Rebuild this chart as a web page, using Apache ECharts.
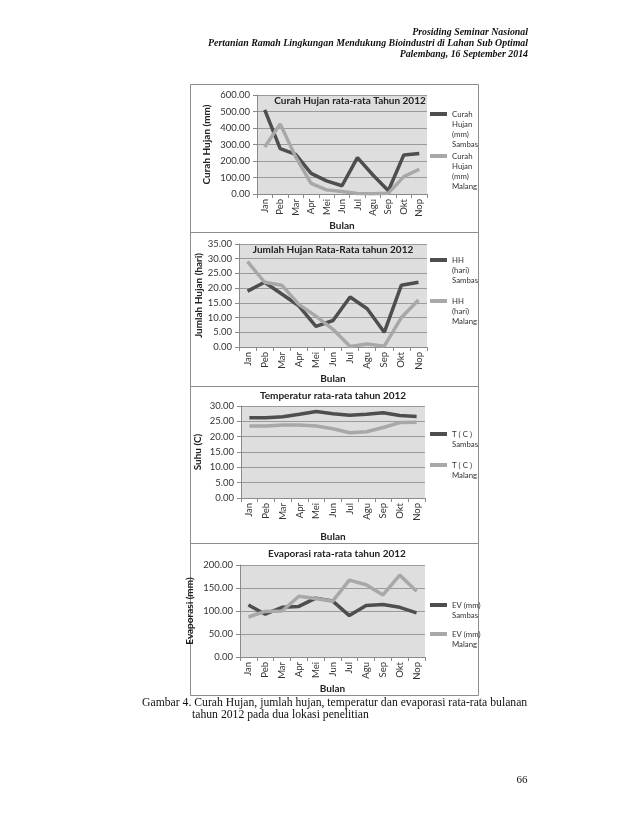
<!DOCTYPE html>
<html>
<head>
<meta charset="utf-8">
<script src="https://cdn.jsdelivr.net/npm/echarts@6/dist/echarts.min.js"></script>
<style>
html,body{margin:0;padding:0;background:#fff;}
#chart{width:638px;height:826px;}
</style>
</head>
<body>
<div id="chart"></div>
<script>
// ---------- data ----------
const months = ['Jan','Peb','Mar','Apr','Mei','Jun','Jul','Agu','Sep','Okt','Nop'];

const curahSambas = [510, 275, 240, 125, 80, 50, 220, 115, 20, 237, 245];
const curahMalang = [285, 425, 225, 65, 25, 15, 3, 2, 5, 105, 150];

const hhSambas = [19, 22, 18, 14, 7, 9, 17, 13, 5, 21, 22];
const hhMalang = [29, 22, 21, 14.5, 10.5, 6, 0.2, 1, 0.3, 10, 16];

const suhuSambas = [26.2, 26.2, 26.5, 27.3, 28.2, 27.5, 27.0, 27.3, 27.8, 26.9, 26.6];
const suhuMalang = [23.5, 23.5, 23.8, 23.8, 23.5, 22.6, 21.3, 21.6, 23.0, 24.6, 24.7];

const evSambas = [113, 93, 108, 110, 128, 122, 90, 112, 114, 108, 96];
const evMalang = [87, 99, 100, 132, 127, 121, 167, 157, 135, 178, 143];

const chartTitles = [
  'Curah Hujan rata-rata Tahun 2012',
  'Jumlah Hujan Rata-Rata tahun 2012',
  'Temperatur rata-rata tahun 2012',
  'Evaporasi rata-rata tahun 2012'
];
const yNames = ['Curah Hujan (mm)', 'Jumlah Hujan (hari)', 'Suhu (C)', 'Evaporasi (mm)'];
const xName = 'Bulan';
const seriesNamesSambas = ['Curah Hujan (mm) Sambas', 'HH (hari) Sambas', 'T ( C ) Sambas', 'EV (mm) Sambas'];
const seriesNamesMalang = ['Curah Hujan (mm) Malang', 'HH (hari) Malang', 'T ( C ) Malang', 'EV (mm) Malang'];
const legendLines = {
  'Curah Hujan (mm) Sambas': ['Curah','Hujan','(mm)','Sambas'],
  'Curah Hujan (mm) Malang': ['Curah','Hujan','(mm)','Malang'],
  'HH (hari) Sambas': ['HH','(hari)','Sambas'],
  'HH (hari) Malang': ['HH','(hari)','Malang'],
  'T ( C ) Sambas': ['T ( C )','Sambas'],
  'T ( C ) Malang': ['T ( C )','Malang'],
  'EV (mm) Sambas': ['EV (mm)','Sambas'],
  'EV (mm) Malang': ['EV (mm)','Malang']
};
const yMax = [600, 35, 30, 200];
const yInterval = [100, 5, 5, 50];

const headerLines = [
  'Prosiding Seminar Nasional',
  'Pertanian Ramah Lingkungan Mendukung Bioindustri di Lahan Sub Optimal',
  'Palembang, 16 September 2014'
];
const captionLine1 = 'Gambar 4. Curah Hujan, jumlah hujan, temperatur dan evaporasi rata-rata bulanan';
const captionLine2 = 'tahun 2012 pada dua lokasi penelitian';
const pageNumber = '66';

// ---------- layout ----------
const FONT = 'Lato, "Liberation Sans", sans-serif';
const DARK = '#4e4e4e';
const LIGHT = '#a8a8a8';
const grids = [
  {left: 257, top: 95, width: 170, height: 99},
  {left: 239, top: 244, width: 188, height: 103},
  {left: 241, top: 406, width: 184, height: 92},
  {left: 240, top: 565, width: 185, height: 92}
];
const yNameGap = [45, 28, 38, 45];
const xNameGap = [26, 27, 34, 27];
const frames = [
  {y: 84, h: 148}, {y: 232, h: 154}, {y: 386, h: 157}, {y: 543, h: 152}
];
const titlePos = [[350, 101], [333, 249.5], [333, 396], [337, 554]];
const legendIcon = [[114, 156], [260, 301], [434, 465], [605, 634]];

const seriesData = [
  [curahSambas, curahMalang],
  [hhSambas, hhMalang],
  [suhuSambas, suhuMalang],
  [evSambas, evMalang]
];

const LH = 10;
function legendFor(name, iconY) {
  const n = legendLines[name].length;
  return {
    data: [name],
    left: 430,
    top: iconY - (2 * n - 1) * LH / 2,
    orient: 'vertical',
    padding: 0,
    icon: 'rect',
    itemWidth: 17,
    itemHeight: 4,
    selectedMode: false,
    textStyle: {fontFamily: FONT, fontSize: 7.8, lineHeight: LH, color: '#333'},
    formatter: function (nm) {
      const lines = legendLines[nm];
      return new Array(lines.length - 1).fill(' ').concat(lines).join('\n');
    }
  };
}

const option = {
  backgroundColor: '#fff',
  animation: false,
  grid: grids.map(g => Object.assign({show: true, backgroundColor: '#dedede', borderWidth: 0}, g)),
  xAxis: grids.map((g, i) => ({
    type: 'category',
    gridIndex: i,
    data: months,
    name: xName,
    nameLocation: 'middle',
    nameGap: xNameGap[i],
    nameTextStyle: {fontFamily: FONT, fontWeight: 'bold', fontSize: 10, color: '#222'},
    axisLine: {lineStyle: {color: '#8a8a8a'}},
    axisTick: {show: true, length: 4, lineStyle: {color: '#8a8a8a'}},
    axisLabel: {rotate: 90, interval: 0, fontFamily: FONT, fontSize: 9.5, color: '#333', margin: 5}
  })),
  yAxis: grids.map((g, i) => ({
    type: 'value',
    gridIndex: i,
    min: 0,
    max: yMax[i],
    interval: yInterval[i],
    name: yNames[i],
    nameLocation: 'middle',
    nameRotate: 90,
    nameGap: yNameGap[i],
    nameTextStyle: {fontFamily: FONT, fontWeight: 'bold', fontSize: 10, color: '#222'},
    axisLine: {show: true, lineStyle: {color: '#8a8a8a'}},
    axisTick: {show: true, length: 4, lineStyle: {color: '#8a8a8a'}},
    splitLine: {lineStyle: {color: '#9a9a9a'}},
    axisLabel: {fontFamily: FONT, fontSize: 9.5, color: '#333', margin: 7,
      formatter: v => v.toFixed(2)}
  })),
  legend: [].concat(...seriesNamesSambas.map((nm, i) => [
    legendFor(nm, legendIcon[i][0]),
    legendFor(seriesNamesMalang[i], legendIcon[i][1])
  ])),
  series: [].concat(...seriesData.map((pair, i) => [
    {name: seriesNamesSambas[i], type: 'line', xAxisIndex: i, yAxisIndex: i, data: pair[0],
      symbol: 'none', lineStyle: {width: 3.5, color: DARK}, itemStyle: {color: DARK}},
    {name: seriesNamesMalang[i], type: 'line', xAxisIndex: i, yAxisIndex: i, data: pair[1],
      symbol: 'none', lineStyle: {width: 3.5, color: LIGHT}, itemStyle: {color: LIGHT}}
  ])),
  graphic: [].concat(
    frames.map(f => ({type: 'rect', shape: {x: 190.5, y: f.y + 0.5, width: 288, height: f.h},
      style: {fill: 'none', stroke: '#8c8c8c', lineWidth: 1}, silent: true})),
    chartTitles.map((t, i) => ({type: 'text', x: titlePos[i][0], y: titlePos[i][1],
      style: {text: t, font: 'bold 10px ' + FONT, fill: '#222', align: 'center', verticalAlign: 'middle'}})),
    headerLines.map((t, i) => ({type: 'text', x: 528, y: 32 + i * 11,
      style: {text: t, font: 'italic bold 9.9px "Liberation Serif", serif', fill: '#111', align: 'right', verticalAlign: 'middle'}})),
    [
      {type: 'text', x: 142, y: 703, style: {text: captionLine1, font: '11.7px "Liberation Serif", serif', fill: '#111', align: 'left', verticalAlign: 'middle'}},
      {type: 'text', x: 192, y: 715, style: {text: captionLine2, font: '11.7px "Liberation Serif", serif', fill: '#111', align: 'left', verticalAlign: 'middle'}},
      {type: 'text', x: 522, y: 780, style: {text: pageNumber, font: '11px "Liberation Serif", serif', fill: '#111', align: 'center', verticalAlign: 'middle'}}
    ]
  )
};

const chart = echarts.init(document.getElementById('chart'), null, {renderer: 'canvas'});
chart.setOption(option);
</script>
</body>
</html>
